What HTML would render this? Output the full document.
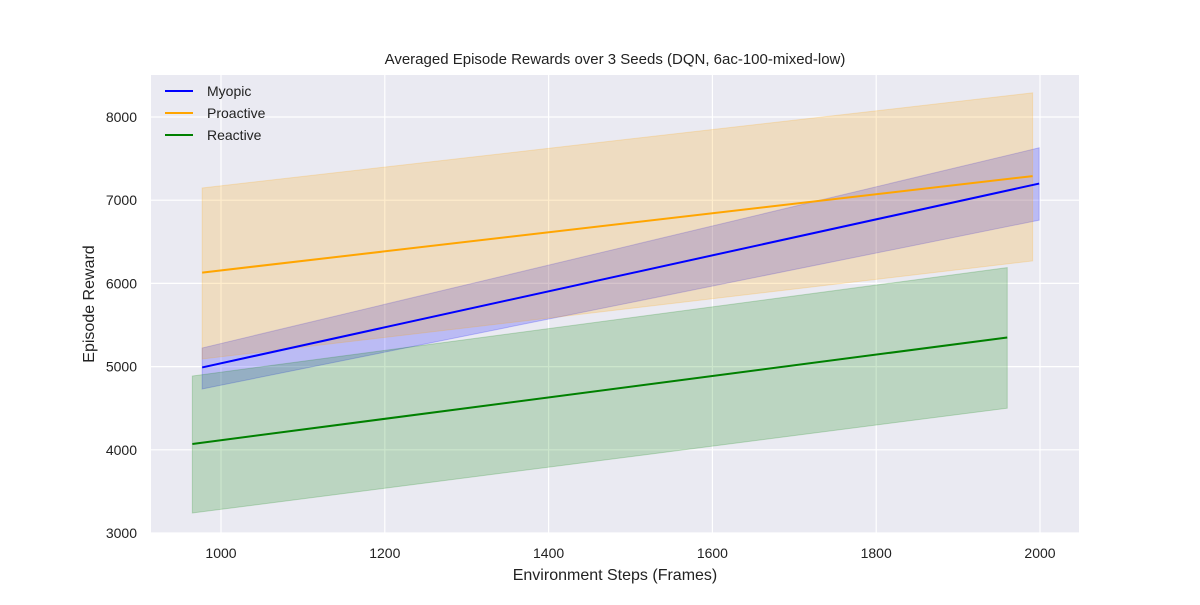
<!DOCTYPE html>
<html><head><meta charset="utf-8"><style>
body{margin:0;background:#fff;font-family:"Liberation Sans",sans-serif}
</style></head><body>
<svg id="chart" width="1200" height="600" xmlns="http://www.w3.org/2000/svg">
<rect x="151" y="75" width="928" height="458" fill="#eaeaf2"/>
<g id="grid"></g><g id="bands"></g><g id="lines"></g><g id="ticks"></g>
<text x="615" y="64" text-anchor="middle" font-size="15" fill="#222">Averaged Episode Rewards over 3 Seeds (DQN, 6ac-100-mixed-low)</text>
<text x="615" y="580" text-anchor="middle" font-size="16" fill="#222">Environment Steps (Frames)</text>
<text transform="translate(94,304) rotate(-90)" text-anchor="middle" font-size="16" fill="#222">Episode Reward</text>
<g id="legend"></g>
</svg>
<script>
const names=["Myopic","Proactive","Reactive"];
const colors=["#0000ff","#ffa500","#008000"];
const xStart=[977,977,965];
const xEnd=[1999,1991,1960];
const meanStart=[4990,6130,4070];
const meanEnd=[7200,7290,5350];
const lowStart=[4731,5091,3240];
const lowEnd=[6760,6270,4500];
const highStart=[5224,7147,4887];
const highEnd=[7630,8290,6190];
const xTicks=[1000,1200,1400,1600,1800,2000];
const yTicks=[3000,4000,5000,6000,7000,8000];
const NS="http://www.w3.org/2000/svg";
const X=v=>221+(v-1000)*0.819;
const Y=v=>533-(v-3000)*0.0832;
function mk(t,a,p){const e=document.createElementNS(NS,t);for(const k in a)e.setAttribute(k,a[k]);document.getElementById(p).appendChild(e);return e;}
xTicks.forEach(t=>{
 const l=mk('line',{x1:X(t),x2:X(t),y1:75,y2:533,stroke:'#fff','stroke-width':1.2},'grid');
 
 
 const tx=mk('text',{x:X(t),y:558,'text-anchor':'middle','font-size':14,fill:'#222'},'ticks');tx.textContent=t;
 
 
});
yTicks.forEach(t=>{
 const l=mk('line',{x1:151,x2:1079,y1:Y(t),y2:Y(t),stroke:'#fff','stroke-width':1.2},'grid');
 
 
 const tx=mk('text',{x:137,y:Y(t)+5,'text-anchor':'end','font-size':14,fill:'#222'},'ticks');tx.textContent=t;
 
 
});
names.forEach((n,i)=>{
 const b=mk('polygon',{points:`${X(xStart[i])},${Y(lowStart[i])} ${X(xEnd[i])},${Y(lowEnd[i])} ${X(xEnd[i])},${Y(highEnd[i])} ${X(xStart[i])},${Y(highStart[i])}`,fill:colors[i],'fill-opacity':0.2,stroke:colors[i],'stroke-opacity':0.2},'bands');
 
 
 const l=mk('line',{x1:X(xStart[i]),y1:Y(meanStart[i]),x2:X(xEnd[i]),y2:Y(meanEnd[i]),stroke:colors[i],'stroke-width':2},'lines');
 
 
 const ly=91+i*22;
 const ll=mk('line',{x1:165,x2:193,y1:ly,y2:ly,stroke:colors[i],'stroke-width':2},'legend');
 
 
 const lt=mk('text',{x:207,y:ly+5,'font-size':14,fill:'#222'},'legend');lt.textContent=n;
 
 
});
</script>
</body></html>
